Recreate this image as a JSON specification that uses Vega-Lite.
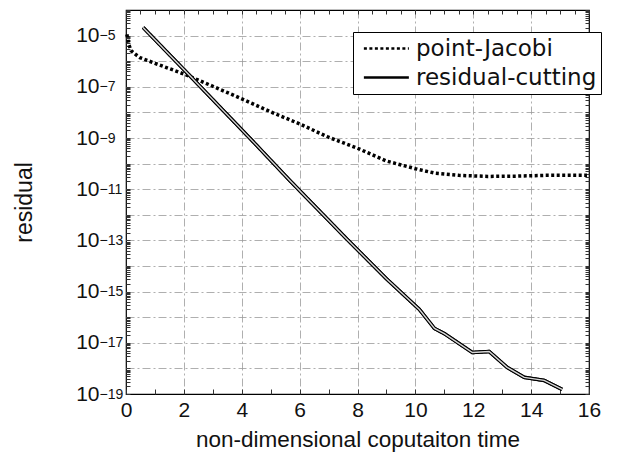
{
  "$schema": "https://vega.github.io/schema/vega-lite/v6.json",
  "width": 463,
  "height": 384,
  "autosize": {"type": "none"},
  "padding": {"left": 126, "top": 10, "right": 55, "bottom": 69},
  "background": "white",
  "config": {
    "view": {"stroke": "black", "strokeWidth": 1.2},
    "font": "Liberation Sans",
    "axis": {
      "domain": false,
      "labelFont": "Liberation Sans",
      "labelColor": "#111",
      "titleFont": "Liberation Sans",
      "titleFontWeight": "normal",
      "titleColor": "#111",
      "tickColor": "#333",
      "gridColor": "#9a9a9a",
      "gridDash": [8, 3, 2, 3],
      "gridWidth": 0.8
    }
  },
  "datasets": {
    "res": [
      {"t": 0.03, "r": 1.12e-5, "method": "point-Jacobi"},
      {"t": 0.1, "r": 4.47e-6, "method": "point-Jacobi"},
      {"t": 0.17, "r": 2.63e-6, "method": "point-Jacobi"},
      {"t": 0.31, "r": 1.91e-6, "method": "point-Jacobi"},
      {"t": 0.48, "r": 1.38e-6, "method": "point-Jacobi"},
      {"t": 1.0, "r": 8.3e-7, "method": "point-Jacobi"},
      {"t": 2.0, "r": 3.16e-7, "method": "point-Jacobi"},
      {"t": 3.0, "r": 1.05e-7, "method": "point-Jacobi"},
      {"t": 4.0, "r": 3.39e-8, "method": "point-Jacobi"},
      {"t": 5.0, "r": 1.05e-8, "method": "point-Jacobi"},
      {"t": 6.0, "r": 3.55e-9, "method": "point-Jacobi"},
      {"t": 7.0, "r": 1.07e-9, "method": "point-Jacobi"},
      {"t": 8.0, "r": 3.98e-10, "method": "point-Jacobi"},
      {"t": 9.0, "r": 1.26e-10, "method": "point-Jacobi"},
      {"t": 10.0, "r": 6.31e-11, "method": "point-Jacobi"},
      {"t": 10.7, "r": 4.17e-11, "method": "point-Jacobi"},
      {"t": 11.5, "r": 3.47e-11, "method": "point-Jacobi"},
      {"t": 12.5, "r": 3.16e-11, "method": "point-Jacobi"},
      {"t": 13.5, "r": 3.24e-11, "method": "point-Jacobi"},
      {"t": 14.5, "r": 3.47e-11, "method": "point-Jacobi"},
      {"t": 15.93, "r": 3.47e-11, "method": "point-Jacobi"},
      {"t": 0.59, "r": 2.09e-5, "method": "residual-cutting"},
      {"t": 2.2, "r": 2.75e-7, "method": "residual-cutting"},
      {"t": 4.45, "r": 6.17e-10, "method": "residual-cutting"},
      {"t": 5.66, "r": 2.19e-11, "method": "residual-cutting"},
      {"t": 7.62, "r": 1.17e-13, "method": "residual-cutting"},
      {"t": 9.0, "r": 3.16e-15, "method": "residual-cutting"},
      {"t": 10.14, "r": 2.0e-16, "method": "residual-cutting"},
      {"t": 10.66, "r": 3.63e-17, "method": "residual-cutting"},
      {"t": 11.0, "r": 2.29e-17, "method": "residual-cutting"},
      {"t": 11.97, "r": 4.17e-18, "method": "residual-cutting"},
      {"t": 12.55, "r": 4.57e-18, "method": "residual-cutting"},
      {"t": 13.17, "r": 1.1e-18, "method": "residual-cutting"},
      {"t": 13.76, "r": 4.47e-19, "method": "residual-cutting"},
      {"t": 14.45, "r": 3.39e-19, "method": "residual-cutting"},
      {"t": 15.07, "r": 1.51e-19, "method": "residual-cutting"}
    ]
  },
  "layer": [
    {
      "data": {"name": "res"},
      "mark": {"type": "line", "color": "black", "strokeWidth": 3.5, "strokeCap": "butt"},
      "encoding": {
        "x": {
          "field": "t", "type": "quantitative",
          "scale": {"domain": [0, 16], "nice": false, "zero": false},
          "axis": {
            "orient": "bottom",
            "title": "non-dimensional coputaiton time",
            "titleFontSize": 22.5,
            "titlePadding": 8,
            "tickCount": 32,
            "format": "d",
            "labelExpr": "datum.value % 2 == 0 ? format(datum.value, 'd') : ''",
            "labelFontSize": 21,
            "labelPadding": 10,
            "labelOverlap": false,
            "labelFlush": false,
            "tickSize": -5,
            "grid": true,
            "gridOpacity": {"condition": {"test": "datum.value % 2 == 0 && datum.value > 0 && datum.value < 16", "value": 1}, "value": 0}
          }
        },
        "y": {
          "field": "r", "type": "quantitative",
          "scale": {"type": "log", "domain": [1e-19, 1e-4], "nice": false},
          "axis": {
            "orient": "left",
            "title": "residual",
            "titleFontSize": 23,
            "titlePadding": 39,
            "tickCount": 50,
            "labelExpr": "abs(log(datum.value)/LN10 - round(log(datum.value)/LN10)) < 0.01 && round(-log(datum.value)/LN10) % 2 == 1 && round(-log(datum.value)/LN10) <= 19 ? '10' : ''",
            "labelFontSize": 21,
            "labelPadding": 31,
            "labelOverlap": false,
            "labelFlush": false,
            "tickSize": -4,
            "grid": true,
            "gridOpacity": {"condition": {"test": "abs(log(datum.value)/LN10 - round(log(datum.value)/LN10)) < 0.01 && datum.value > 2e-19 && datum.value < 5e-5", "value": 1}, "value": 0}
          }
        },
        "strokeDash": {
          "field": "method", "type": "nominal",
          "scale": {"domain": ["point-Jacobi", "residual-cutting"], "range": [[3, 2.5], [1, 0]]},
          "legend": {
            "orient": "none",
            "legendX": 227,
            "legendY": 22,
            "title": null,
            "fillColor": "white",
            "strokeColor": "black",
            "padding": 4,
            "labelFont": "DejaVu Sans",
            "labelFontSize": 23,
            "labelColor": "#111",
            "labelLimit": 400,
            "labelOffset": 34,
            "symbolType": "M-0.5,0H3.5",
            "symbolSize": 506,
            "symbolStrokeColor": "black",
            "symbolStrokeWidth": 2.5,
            "rowPadding": 4
          }
        }
      }
    },
    {
      "data": {"name": "res"},
      "transform": [{"filter": "datum.method == 'residual-cutting'"}],
      "mark": {"type": "line", "color": "black", "strokeWidth": 3.5, "strokeCap": "butt"},
      "encoding": {
        "x": {"field": "t", "type": "quantitative", "axis": null},
        "y": {
          "field": "r", "type": "quantitative",
          "axis": {
            "orient": "left",
            "title": null,
            "grid": false,
            "ticks": false,
            "tickCount": 50,
            "labelExpr": "abs(log(datum.value)/LN10 - round(log(datum.value)/LN10)) < 0.01 && round(-log(datum.value)/LN10) % 2 == 1 && round(-log(datum.value)/LN10) <= 19 ? '−' + format(round(-log(datum.value)/LN10), 'd') : ''",
            "labelFontSize": 14,
            "labelAlign": "left",
            "labelPadding": 27,
            "labelDy": -9,
            "labelOverlap": false,
            "labelFlush": false
          }
        }
      }
    },
    {
      "data": {"name": "res"},
      "transform": [{"filter": "datum.method == 'residual-cutting'"}],
      "mark": {"type": "line", "color": "#d8d8d8", "strokeWidth": 1.4},
      "encoding": {
        "x": {
          "field": "t", "type": "quantitative",
          "axis": {"orient": "top", "title": null, "labels": false, "grid": false, "tickCount": 32, "tickSize": -4}
        },
        "y": {
          "field": "r", "type": "quantitative",
          "axis": {"orient": "right", "title": null, "labels": false, "grid": false, "tickCount": 50, "tickSize": -4}
        }
      }
    }
  ],
  "resolve": {"axis": {"x": "independent", "y": "independent"}}
}
